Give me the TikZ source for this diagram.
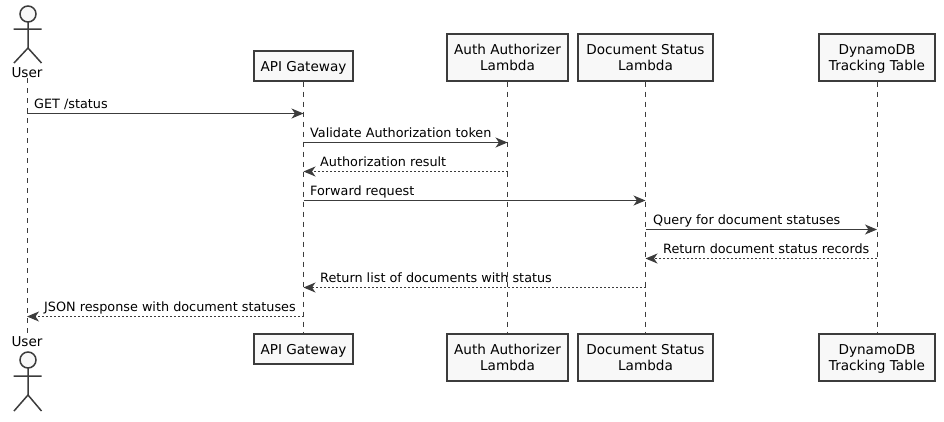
\documentclass[tikz,border=0pt]{standalone}
\usepackage{fontspec}
\setmainfont{DejaVu Sans}
\usetikzlibrary{arrows.meta}

\definecolor{inkgray}{HTML}{3C3C3C}
\definecolor{boxgray}{HTML}{F8F8F8}
\tikzset{
  part/.style={draw=inkgray,fill=boxgray,line width=1.2pt,inner sep=0pt,align=center,text depth=0pt,minimum height=30pt,font=\fontsize{13.6}{16.3}\selectfont,text=black},
  tallpart/.style={part,text depth=-2pt,minimum height=47pt},
  actorname/.style={inner sep=0pt,font=\fontsize{13.6}{16.3}\selectfont,text=black},
  lifeline/.style={draw=inkgray,line width=0.8pt,dash pattern=on 5pt off 5pt},
  limb/.style={draw=inkgray,line width=1.5pt},
  msg/.style={draw=inkgray,line width=1pt,-{Stealth[length=12pt,width=10pt,inset=3.5pt,inkgray]}},
  retmsg/.style={msg,dash pattern=on 2pt off 2pt},
  msglabel/.style={inner sep=0pt,anchor=base west,font=\fontsize{12.8}{15}\selectfont,text=black}
}

\begin{document}
\begin{tikzpicture}[x=1pt,y=-1pt]
  \useasboundingbox (0,0) rectangle (944,421);
  % participants, top row
  \node[actorname] (userT) at (27,73) {User};
  \node[part,minimum width=99pt] (apiT) at (303.5,66) {API Gateway};
  \node[tallpart,minimum width=121pt] (authT) at (507.5,57.5) {Auth Authorizer\\Lambda};
  \node[tallpart,minimum width=135pt] (docT) at (645.5,57.5) {Document Status\\Lambda};
  \node[tallpart,minimum width=116pt] (dynT) at (877,57.5) {DynamoDB\\Tracking Table};
  % participants, bottom row
  \node[actorname] (userB) at (27,342) {User};
  \node[part,minimum width=99pt] (apiB) at (303.5,349) {API Gateway};
  \node[tallpart,minimum width=121pt] (authB) at (507.5,357.5) {Auth Authorizer\\Lambda};
  \node[tallpart,minimum width=135pt] (docB) at (645.5,357.5) {Document Status\\Lambda};
  \node[tallpart,minimum width=116pt] (dynB) at (877,357.5) {DynamoDB\\Tracking Table};
  % lifelines
  \draw[lifeline] (userT.south) -- (userB.north);
  \draw[lifeline] (apiT.south) -- (apiB.north);
  \draw[lifeline] (authT.south) -- (authB.north);
  \draw[lifeline] (docT.south) -- (docB.north);
  \draw[lifeline] (dynT.south) -- (dynB.north);
  % actors
  \draw[limb,fill=boxgray] (28,14) circle (8);
  \draw[limb] (28,22) -- (28,48) (13.5,29) -- (41.5,29) (14,63) -- (28,48) -- (41.5,63);
  \draw[limb,fill=boxgray] (28,360) circle (8);
  \draw[limb] (28,368) -- (28,395) (13.5,376) -- (41.5,376) (14,411) -- (28,395) -- (41.5,411);
  % rows
  \coordinate (r1) at (0,113.5);
  \coordinate (r2) at (0,142.5);
  \coordinate (r3) at (0,171.5);
  \coordinate (r4) at (0,200.5);
  \coordinate (r5) at (0,229.5);
  \coordinate (r6) at (0,258.5);
  \coordinate (r7) at (0,287.5);
  \coordinate (r8) at (0,316.5);
  % messages
  \draw[msg] (userT |- r1) -- (apiT |- r1);
  \node[msglabel] (m1) at (34,108.5) {GET /status};
  \draw[msg] (apiT |- r2) -- (authT |- r2);
  \node[msglabel] (m2) at (310,137.5) {Validate Authorization token};
  \draw[retmsg] (authT |- r3) -- (apiT |- r3);
  \node[msglabel] (m3) at (320,166.5) {Authorization result};
  \draw[msg] (apiT |- r4) -- (docT |- r4);
  \node[msglabel] (m4) at (310,195.5) {Forward request};
  \draw[msg] (docT |- r5) -- (dynT |- r5);
  \node[msglabel] (m5) at (653,224.5) {Query for document statuses};
  \draw[retmsg] (dynT |- r6) -- (docT |- r6);
  \node[msglabel] (m6) at (663,253.5) {Return document status records};
  \draw[retmsg] (docT |- r7) -- (apiT |- r7);
  \node[msglabel] (m7) at (320,282.5) {Return list of documents with status};
  \draw[retmsg] (apiT |- r8) -- (userT |- r8);
  \node[msglabel] (m8) at (44,311.5) {JSON response with document statuses};
\end{tikzpicture}
\end{document}
